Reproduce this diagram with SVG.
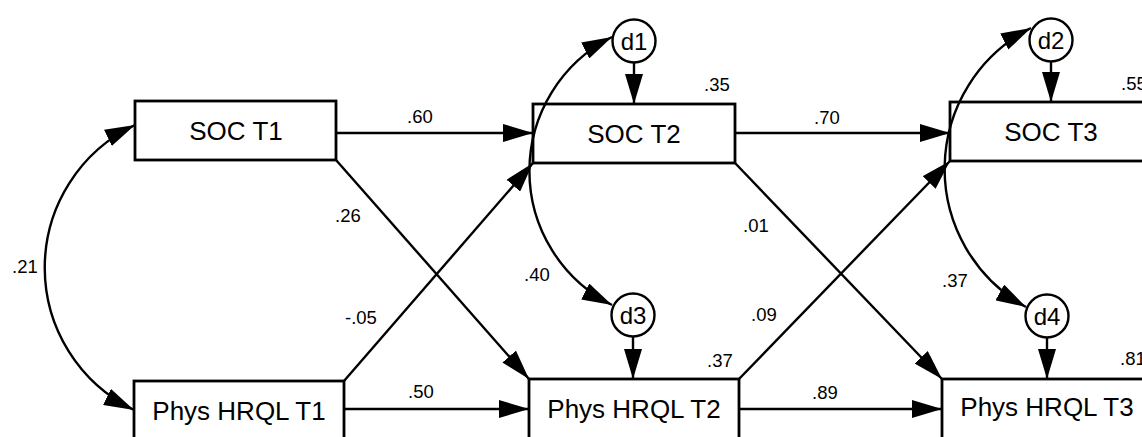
<svg xmlns="http://www.w3.org/2000/svg" width="1142" height="437" viewBox="0 0 1142 437">
<style>
.box{fill:#fff;stroke:#000;stroke-width:2.8}
.circ{fill:#fff;stroke:#000;stroke-width:2.4}
.node{font-family:"Liberation Sans",Arial,sans-serif;font-size:26px;fill:#000;text-anchor:middle}
.dl{font-family:"Liberation Sans",Arial,sans-serif;font-size:24px;fill:#000;text-anchor:middle}
.lbl{font-family:"Liberation Sans",Arial,sans-serif;font-size:18.5px;fill:#000}
.c{fill:none;stroke:#000;stroke-width:2.4;marker-end:url(#ah)}
.cc{fill:none;stroke:#000;stroke-width:2.4;marker-start:url(#ah);marker-end:url(#ah)}
</style>
<defs>
<marker id="ah" markerUnits="userSpaceOnUse" viewBox="0 0 30 18" refX="30" refY="9" markerWidth="30" markerHeight="18" orient="auto-start-reverse">
<path d="M0,0 L30,9 L0,18 z" fill="#000"/>
</marker>
</defs>
<rect width="1142" height="437" fill="#fff"/>
<g id="soc_t1">
<rect class="box" x="135" y="101" width="201" height="59"/>
<text class="node" x="236" y="140">SOC T1</text>
</g>
<g id="phys_t1">
<rect class="box" x="134" y="381" width="210" height="62"/>
<text class="node" x="239" y="420">Phys HRQL T1</text>
</g>
<g id="soc_t2">
<rect class="box" x="533" y="104" width="202" height="59"/>
<text class="node" x="634" y="143">SOC T2</text>
<text class="lbl" x="704" y="91">.35</text>
</g>
<g id="phys_t2">
<rect class="box" x="529" y="379" width="210" height="62"/>
<text class="node" x="634" y="418">Phys HRQL T2</text>
<text class="lbl" x="707" y="367">.37</text>
</g>
<g id="soc_t3">
<rect class="box" x="950" y="102" width="205" height="59"/>
<text class="node" x="1051" y="141">SOC T3</text>
<text class="lbl" x="1121" y="90">.55</text>
</g>
<g id="phys_t3">
<rect class="box" x="942" y="379" width="212" height="62"/>
<text class="node" x="1047" y="416">Phys HRQL T3</text>
<text class="lbl" x="1120" y="365">.81</text>
</g>
<g id="d1">
<circle class="circ" cx="634" cy="41" r="21.5"/>
<text class="dl" x="634" y="50">d1</text>
</g>
<g id="d3">
<circle class="circ" cx="633" cy="315" r="21.5"/>
<text class="dl" x="633" y="324">d3</text>
</g>
<g id="d2">
<circle class="circ" cx="1051" cy="40" r="21.5"/>
<text class="dl" x="1051" y="49">d2</text>
</g>
<g id="d4">
<circle class="circ" cx="1047" cy="316" r="21.5"/>
<text class="dl" x="1047" y="325">d4</text>
</g>
<g id="connectors">
<path class="c" d="M336,133 L533,133"/>
<path class="c" d="M344,409 L529,409"/>
<path class="c" d="M336,160 L529,379"/>
<path class="c" d="M344,381 L533,163"/>
<path class="c" d="M735,133 L950,133"/>
<path class="c" d="M739,409 L942,409"/>
<path class="c" d="M735,163 L942,379"/>
<path class="c" d="M739,379 L950,161"/>
<path class="c" d="M634,63 L634,104"/>
<path class="c" d="M633,337 L633,379"/>
<path class="c" d="M1051,62 L1051,102"/>
<path class="c" d="M1047,338 L1047,379"/>
<path class="cc" d="M135,125 A158,158 0 0 0 134,410"/>
<path class="cc" d="M612,37 A150,150 0 0 0 612,305"/>
<path class="cc" d="M1031,28 A158,158 0 0 0 1026,307"/>
<text class="lbl" x="12" y="273">.21</text>
<text class="lbl" x="407" y="123">.60</text>
<text class="lbl" x="408" y="398">.50</text>
<text class="lbl" x="335" y="222">.26</text>
<text class="lbl" x="345" y="324">-.05</text>
<text class="lbl" x="524" y="281">.40</text>
<text class="lbl" x="814" y="124">.70</text>
<text class="lbl" x="812" y="399">.89</text>
<text class="lbl" x="743" y="232">.01</text>
<text class="lbl" x="751" y="321">.09</text>
<text class="lbl" x="942" y="287">.37</text>
</g>
</svg>
